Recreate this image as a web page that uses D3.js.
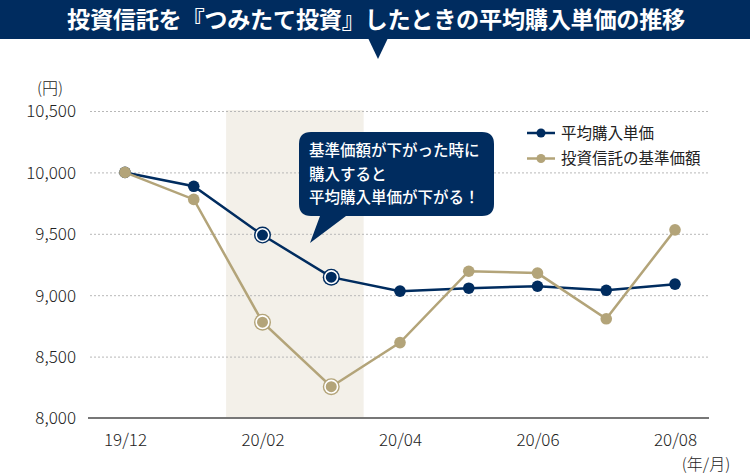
<!DOCTYPE html>
<html>
<head>
<meta charset="utf-8">
<script src="https://cdn.jsdelivr.net/npm/d3@7"></script>
<style>
  body { margin: 0; background: #fff; }
  svg { display: block; font-family: "Noto Sans CJK JP", "Noto Sans", sans-serif; }
</style>
</head>
<body>
<div id="chart"></div>
<script>
// data
const months = ['19/12', '20/01', '20/02', '20/03', '20/04', '20/05', '20/06', '20/07', '20/08'];
const monthLabels = ['19/12', '20/02', '20/04', '20/06', '20/08'];
const avgCost = [10000, 9887, 9490, 9147, 9033, 9057, 9073, 9040, 9090];
const navPrice = [10000, 9780, 8780, 8255, 8614, 9195, 9180, 8808, 9532];
const yTicks = [8000, 8500, 9000, 9500, 10000, 10500];
const highlighted = ['20/02', '20/03'];

const navy = '#002c5f';
const gold = '#b3a479';

const width = 750, height = 475;
const margin = { top: 111, left: 90, bottom: 57, right: 41 };

const svg = d3.select('#chart').append('svg')
  .attr('width', width)
  .attr('height', height);

const x = d3.scalePoint().domain(months).range([125, 675]);
const y = d3.scaleLinear().domain([8000, 10500]).range([height - margin.bottom, margin.top]);

// title bar
svg.append('rect').attr('x', 0).attr('y', 0).attr('width', width).attr('height', 39).attr('fill', navy);
svg.append('path').attr('d', 'M368,38 L388,38 L378,59 Z').attr('fill', navy);
svg.append('text')
  .attr('x', width / 2 + 1).attr('y', 27.5)
  .attr('text-anchor', 'middle')
  .attr('fill', '#fff')
  .attr('font-size', 23.2)
  .attr('font-weight', 700)
  .attr('letter-spacing', -0.3)
  .text('投資信託を『つみたて投資』したときの平均購入単価の推移');

// shaded period
const step = x.step();
svg.append('rect')
  .attr('x', x('20/01') + step / 2 - 2)
  .attr('y', y(10500) - 1)
  .attr('width', step * 2)
  .attr('height', y(8000) - y(10500) + 1)
  .attr('fill', '#f3f0e9');

// grid lines
svg.append('g')
  .attr('transform', `translate(${margin.left},0)`)
  .call(d3.axisLeft(y).tickValues(yTicks.slice(1)).tickSize(-(width - margin.left - margin.right)).tickFormat(''))
  .call(g => g.select('.domain').remove())
  .call(g => g.selectAll('line').attr('stroke', '#b8b8b8').attr('stroke-dasharray', '2,2'));

// base line
svg.append('line')
  .attr('x1', margin.left - 2).attr('x2', width - margin.right)
  .attr('y1', y(8000)).attr('y2', y(8000))
  .attr('stroke', '#777').attr('stroke-width', 2);

// y labels
svg.append('g')
  .attr('transform', `translate(${margin.left - 11},0)`)
  .call(d3.axisLeft(y).tickValues(yTicks).tickSize(0).tickFormat(d3.format(',')))
  .call(g => g.select('.domain').remove())
  .call(g => g.selectAll('text')
    .attr('font-size', 17)
    .attr('font-weight', 300)
    .attr('fill', '#222')
    .attr('dy', '0.35em')
    .attr('font-family', '"Noto Sans CJK JP", sans-serif'));

svg.append('text').attr('x', 50).attr('y', 94).attr('text-anchor', 'middle')
  .attr('font-size', 16).attr('font-weight', 300).attr('fill', '#222').text('(円)');

// x labels
svg.append('g')
  .attr('transform', `translate(0,${y(8000) + 13})`)
  .call(d3.axisBottom(x).tickValues(monthLabels).tickSize(0))
  .call(g => g.select('.domain').remove())
  .call(g => g.selectAll('text')
    .attr('font-size', 17)
    .attr('font-weight', 300)
    .attr('fill', '#222')
    .attr('font-family', '"Noto Sans CJK JP", sans-serif'));

svg.append('text').attr('x', 706).attr('y', 470).attr('text-anchor', 'middle')
  .attr('font-size', 16).attr('font-weight', 300).attr('fill', '#222').text('(年/月)');

// lines & markers
const series = [
  { name: '平均購入単価', values: avgCost, color: navy },
  { name: '投資信託の基準価額', values: navPrice, color: gold },
];

const line = d3.line().x((d, i) => x(months[i])).y(d => y(d));

series.forEach(s => {
  svg.append('path')
    .attr('d', line(s.values))
    .attr('fill', 'none')
    .attr('stroke', s.color)
    .attr('stroke-width', 2.5);

  const pts = svg.append('g').selectAll('g')
    .data(s.values)
    .enter()
    .append('g')
    .attr('transform', (d, i) => `translate(${x(months[i])},${y(d)})`);

  pts.append('circle')
    .attr('r', (d, i) => highlighted.includes(months[i]) ? 8.5 : 5.8)
    .attr('fill', s.color);

  pts.filter((d, i) => highlighted.includes(months[i]))
    .append('circle')
    .attr('r', 6.3)
    .attr('fill', s.color)
    .attr('stroke', '#fff')
    .attr('stroke-width', 1.6);
});

// legend
const legend = svg.append('g').attr('transform', 'translate(527,133)');
series.forEach((s, i) => {
  const g = legend.append('g').attr('transform', `translate(0,${i * 25.5})`);
  g.append('line').attr('x1', 0).attr('x2', 28).attr('stroke', s.color).attr('stroke-width', 2.5);
  g.append('circle').attr('cx', 14).attr('r', 4.5).attr('fill', s.color);
  g.append('text').attr('x', 34).attr('dy', '0.36em')
    .attr('font-size', 15.5).attr('fill', '#222').text(s.name);
});

// callout
svg.append('path')
  .attr('d', 'M311,132 L482,132 Q494,132 494,144 L494,204 Q494,216 482,216 L346,216 L310,243 L320,216 L311,216 Q299,216 299,204 L299,144 Q299,132 311,132 Z')
  .attr('fill', navy);

const callLines = ['基準価額が下がった時に', '購入すると', '平均購入単価が下がる！'];
svg.append('text')
  .attr('x', 309).attr('y', 156)
  .attr('fill', '#fff')
  .attr('font-size', 15.5)
  .attr('font-weight', 500)
  .selectAll('tspan')
  .data(callLines)
  .enter()
  .append('tspan')
  .attr('x', 309)
  .attr('dy', (d, i) => i === 0 ? 0 : 23.5)
  .text(d => d);
</script>
</body>
</html>
